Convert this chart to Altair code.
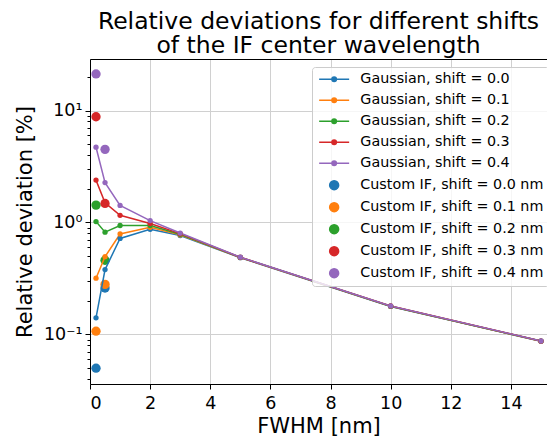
import altair as alt
import pandas as pd

# ---------------- data ----------------
fwhm = [0.2, 0.5, 1, 2, 3, 5, 10, 15]

gauss_shift_0_0 = [0.141, 0.38, 0.72, 0.87, 0.765, 0.485, 0.178, 0.0870]
gauss_shift_0_1 = [0.318, 0.495, 0.79, 0.905, 0.775, 0.487, 0.179, 0.0872]
gauss_shift_0_2 = [1.02, 0.82, 0.94, 0.94, 0.785, 0.488, 0.179, 0.0873]
gauss_shift_0_3 = [2.39, 1.50, 1.16, 0.98, 0.795, 0.489, 0.180, 0.0874]
gauss_shift_0_4 = [4.70, 2.27, 1.42, 1.04, 0.805, 0.490, 0.180, 0.0875]

custom_fwhm = [0.2, 0.5]
custom_shift_0_0 = [0.050, 0.26]
custom_shift_0_1 = [0.107, 0.28]
custom_shift_0_2 = [1.43, 0.46]
custom_shift_0_3 = [8.8, 1.48]
custom_shift_0_4 = [21.2, 4.5]

gauss_labels = ["Gaussian, shift = 0.0", "Gaussian, shift = 0.1", "Gaussian, shift = 0.2",
                "Gaussian, shift = 0.3", "Gaussian, shift = 0.4"]
custom_labels = ["Custom IF, shift = 0.0 nm", "Custom IF, shift = 0.1 nm", "Custom IF, shift = 0.2 nm",
                 "Custom IF, shift = 0.3 nm", "Custom IF, shift = 0.4 nm"]
colors = ["#1f77b4", "#ff7f0e", "#2ca02c", "#d62728", "#9467bd"]

x_ticks = [0, 2, 4, 6, 8, 10, 12, 14]
y_major = [0.1, 1, 10]
y_minor = [0.04, 0.05, 0.06, 0.07, 0.08, 0.09,
           0.2, 0.3, 0.4, 0.5, 0.6, 0.7, 0.8, 0.9,
           2, 3, 4, 5, 6, 7, 8, 9, 20]

# ---------------- tables ----------------
gauss_series = [gauss_shift_0_0, gauss_shift_0_1, gauss_shift_0_2, gauss_shift_0_3, gauss_shift_0_4]
custom_series = [custom_shift_0_0, custom_shift_0_1, custom_shift_0_2, custom_shift_0_3, custom_shift_0_4]

gauss_df = pd.DataFrame([
    {"fwhm": f, "dev": v, "label": lab}
    for lab, vals in zip(gauss_labels, gauss_series)
    for f, v in zip(fwhm, vals)
])
custom_df = pd.DataFrame([
    {"fwhm": f, "dev": v, "label": lab}
    for lab, vals in zip(custom_labels, custom_series)
    for f, v in zip(custom_fwhm, vals)
])
all_labels = gauss_labels + custom_labels
legend_df = pd.DataFrame({"label": all_labels, "fwhm": [1.0] * 10, "dev": [1.0] * 10})

# ---------------- scales ----------------
x_scale = alt.Scale(domain=[0, 15.2], nice=False, zero=False)
y_scale = alt.Scale(type="log", domain=[0.03614, 28.83], nice=False)

line_dot = "M-1,0L5,0M1.55,0A0.45,0.45,0,1,0,2.45,0A0.45,0.45,0,1,0,1.55,0Z"
big_dot = "M1.1,0A0.9,0.9,0,1,0,2.9,0A0.9,0.9,0,1,0,1.1,0Z"

fill_scale = alt.Scale(domain=all_labels, range=colors * 2)
stroke_scale = alt.Scale(domain=all_labels, range=colors * 2)
shape_scale = alt.Scale(domain=all_labels, range=[line_dot] * 5 + [big_dot] * 5)

FONT = "DejaVu Sans"
major_test = "datum.value == 0.1 || datum.value == 1 || datum.value == 10"

x_axis = alt.Axis(values=x_ticks, format="d", title="FWHM [nm]", grid=True,
                  gridColor="#d0d0d0", gridWidth=1, domainColor="black", tickColor="black",
                  tickSize=5, labelPadding=5, labelFontSize=17.5, labelColor="black",
                  titleFontSize=21, titleFontWeight="normal", titleColor="black",
                  titlePadding=4, labelFont=FONT, titleFont=FONT)
y_axis = alt.Axis(values=y_major + y_minor, title="Relative deviation [%]",
                  labelExpr="datum.value == 10 ? '10¹' : datum.value == 1 ? '10⁰' : datum.value == 0.1 ? '10⁻¹' : ''",
                  grid=True, gridColor="#d0d0d0", gridWidth=1,
                  gridOpacity={"condition": {"test": major_test, "value": 1}, "value": 0},
                  tickSize={"condition": {"test": major_test, "value": 5}, "value": 3},
                  domainColor="black", tickColor="black", labelPadding=3,
                  labelFontSize=17.5, labelColor="black", titleFontSize=21,
                  titleFontWeight="normal", titleColor="black", titlePadding=8,
                  labelFont=FONT, titleFont=FONT, labelOverlap=False)

X = alt.X("fwhm:Q", scale=x_scale, axis=x_axis)
X_noaxis = alt.X("fwhm:Q", scale=x_scale, axis=None)
X_top = alt.X("fwhm:Q", scale=x_scale,
              axis=alt.Axis(orient="top", labels=False, ticks=False, grid=False, title=None,
                            domainColor="black"))
Y = alt.Y("dev:Q", scale=y_scale, axis=y_axis)

legend = alt.Legend(title=None, orient="none", legendX=222, legendY=8,
                    labelFont=FONT, labelFontSize=14.3, labelColor="black",
                    symbolSize=100, symbolStrokeWidth=1.5, symbolOpacity=1,
                    labelOffset=29, rowPadding=6.0, padding=5, labelLimit=400,
                    strokeColor="#cccccc", fillColor="rgba(255,255,255,0.8)", cornerRadius=3)

custom_layer = alt.Chart(custom_df).mark_circle(size=87, opacity=1).encode(
    x=X, y=Y, fill=alt.Fill("label:N", scale=fill_scale, legend=legend))

line_layer = alt.Chart(gauss_df).mark_line(strokeWidth=1.5).encode(
    x=X_noaxis, y=Y, stroke=alt.Stroke("label:N", scale=stroke_scale, legend=legend),
    order="fwhm:Q")

dot_layer = alt.Chart(gauss_df).mark_circle(size=28, opacity=1).encode(
    x=X_noaxis, y=Y, fill=alt.Fill("label:N", scale=fill_scale, legend=legend))

legend_layer = alt.Chart(legend_df).transform_filter("false").mark_point(
    filled=True, opacity=1, size=100, strokeWidth=1.5).encode(
    x=X_top, y=Y,
    fill=alt.Fill("label:N", scale=fill_scale, legend=legend),
    stroke=alt.Stroke("label:N", scale=stroke_scale, legend=legend),
    shape=alt.Shape("label:N", scale=shape_scale, legend=legend))

chart = alt.layer(custom_layer, line_layer, dot_layer, legend_layer).resolve_axis(
    x="independent").properties(
    width=457, height=325,
    autosize=alt.AutoSizeParams(type="none"),
    padding={"left": 82, "top": 51, "right": 0, "bottom": 54},
    title=alt.Title(text=["Relative deviations for different shifts", "of the IF center wavelength"],
                    fontSize=23.5, fontWeight="normal", font=FONT, color="black",
                    anchor="middle", offset=2, lineHeight=24),
).configure_view(stroke=None).configure(font=FONT)

chart.save("out.html", embed_options={"renderer": "svg", "actions": False})
